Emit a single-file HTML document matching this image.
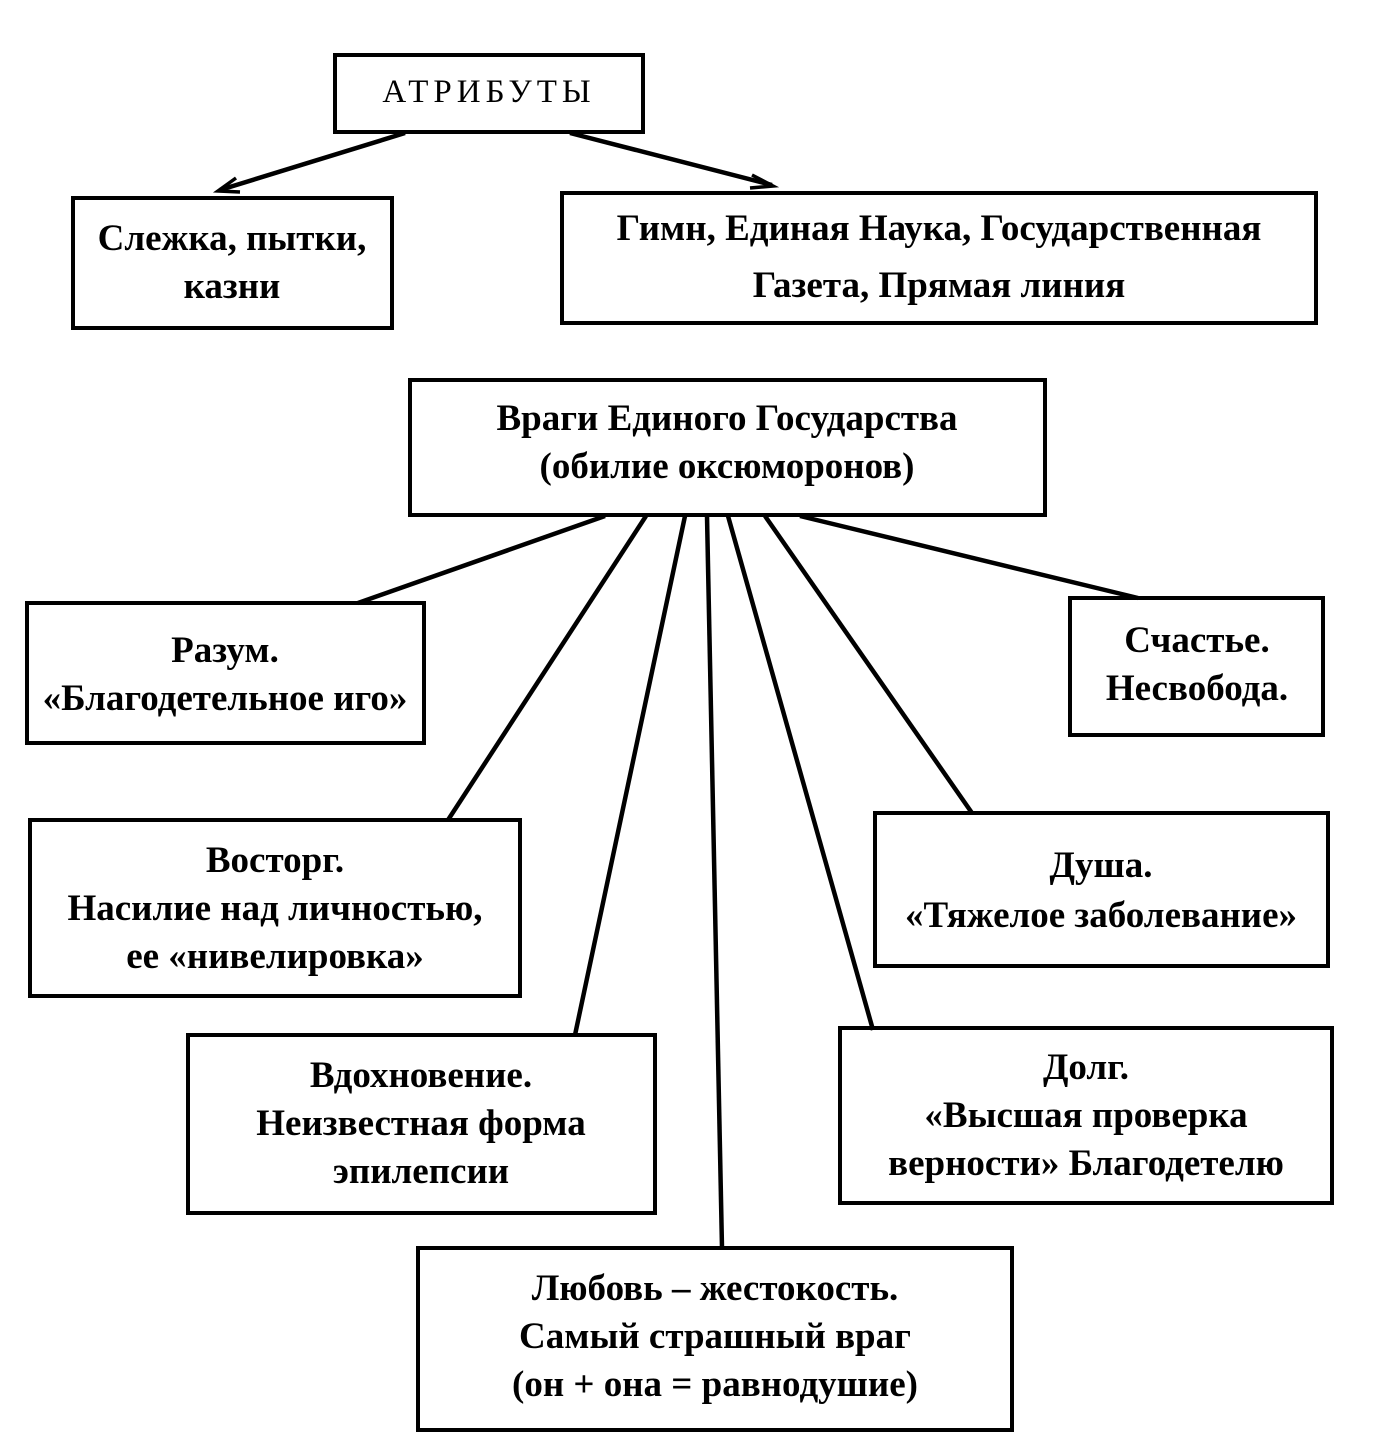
<!DOCTYPE html>
<html><head><meta charset="utf-8"><style>
html,body{margin:0;padding:0;background:#fff;}
svg{display:block;}
text{font-family:"Liberation Serif",serif;font-size:37px;font-weight:bold;fill:#000;text-anchor:middle;}
rect{fill:none;stroke:#000;stroke-width:4;}
line{stroke:#000;stroke-width:4.5;}
</style></head><body>
<svg width="1381" height="1438" viewBox="0 0 1381 1438" xmlns="http://www.w3.org/2000/svg">
<rect x="335" y="55" width="308" height="77"/>
<text x="489" y="102" style="letter-spacing:5px;font-size:33px;font-weight:normal">АТРИБУТЫ</text>
<line x1="405" y1="133" x2="220" y2="190"/>
<path d="M236,178 L218,191 L240,192" fill="none" stroke="#000" stroke-width="3.5"/>
<line x1="570" y1="133" x2="772" y2="185"/>
<path d="M752,175 L773,186 L750,188" fill="none" stroke="#000" stroke-width="3.5"/>
<rect x="73" y="198" width="319" height="130"/>
<text x="232" y="250">Слежка, пытки,</text>
<text x="232" y="298">казни</text>
<rect x="562" y="193" width="754" height="130"/>
<text x="939" y="240">Гимн, Единая Наука, Государственная</text>
<text x="939" y="297">Газета, Прямая линия</text>
<rect x="410" y="380" width="635" height="135"/>
<text x="727" y="430">Враги Единого Государства</text>
<text x="727" y="478">(обилие оксюморонов)</text>
<line x1="605" y1="516" x2="358" y2="603"/>
<line x1="646" y1="516" x2="448" y2="820"/>
<line x1="685" y1="516" x2="575" y2="1035"/>
<line x1="707" y1="516" x2="722" y2="1248"/>
<line x1="728" y1="516" x2="873" y2="1030"/>
<line x1="765" y1="516" x2="972" y2="813"/>
<line x1="800" y1="516" x2="1138" y2="598"/>
<rect x="27" y="603" width="397" height="140"/>
<text x="225" y="662">Разум.</text>
<text x="225" y="710">«Благодетельное иго»</text>
<rect x="1070" y="598" width="253" height="137"/>
<text x="1197" y="652">Счастье.</text>
<text x="1197" y="700">Несвобода.</text>
<rect x="30" y="820" width="490" height="176"/>
<text x="275" y="872">Восторг.</text>
<text x="275" y="920">Насилие над личностью,</text>
<text x="275" y="968">ее «нивелировка»</text>
<rect x="875" y="813" width="453" height="153"/>
<text x="1101" y="877">Душа.</text>
<text x="1101" y="927">«Тяжелое заболевание»</text>
<rect x="188" y="1035" width="467" height="178"/>
<text x="421" y="1087">Вдохновение.</text>
<text x="421" y="1135">Неизвестная форма</text>
<text x="421" y="1183">эпилепсии</text>
<rect x="840" y="1028" width="492" height="175"/>
<text x="1086" y="1079">Долг.</text>
<text x="1086" y="1127">«Высшая проверка</text>
<text x="1086" y="1175">верности» Благодетелю</text>
<rect x="418" y="1248" width="594" height="182"/>
<text x="715" y="1300">Любовь – жестокость.</text>
<text x="715" y="1348">Самый страшный враг</text>
<text x="715" y="1396">(он + она = равнодушие)</text>
</svg>
</body></html>
